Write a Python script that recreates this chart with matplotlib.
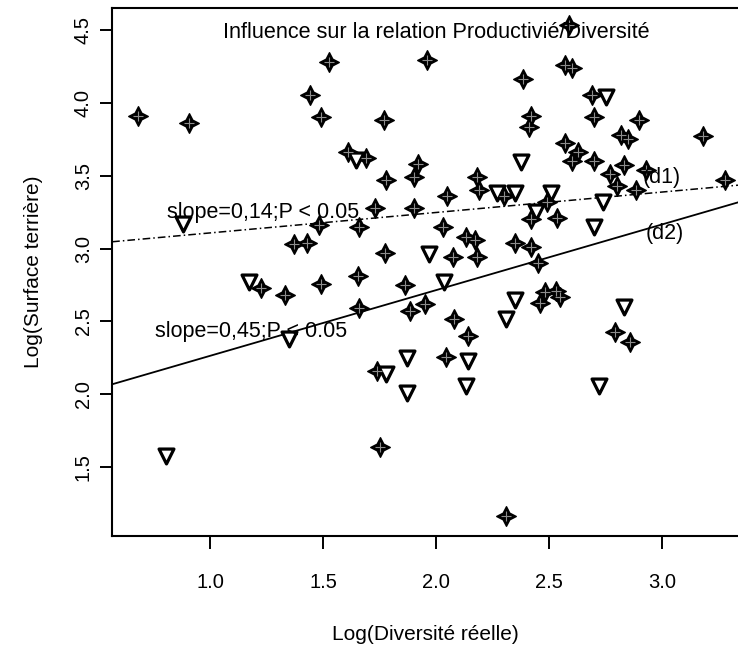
import matplotlib
matplotlib.use("Agg")
import matplotlib.pyplot as plt
import numpy as np
from matplotlib.path import Path

plt.rcParams['font.family'] = ['Liberation Sans', 'DejaVu Sans']

# filled star points (log diversity, log basal area)
star_x = [0.68, 0.907, 1.527, 1.44, 1.49, 1.77, 1.96, 1.61, 1.69, 1.92,
          2.59, 2.57, 2.60, 2.385, 2.69, 2.42, 2.41, 2.70, 2.90, 2.82,
          2.85, 3.18, 2.57, 2.63, 2.60, 2.70, 2.83,
          1.78, 1.90, 1.73, 1.90, 1.48, 1.66, 1.37, 1.43, 1.775, 1.225,
          1.33, 1.49, 1.655, 1.86, 1.66, 1.885, 1.95,
          2.18, 2.19, 2.05, 2.30, 2.49, 2.77, 2.80, 2.885, 2.93, 3.28,
          2.42, 2.535, 2.03, 2.13, 2.17, 2.35, 2.42, 2.075, 2.18, 2.45,
          2.48, 2.53, 2.55, 2.46, 2.08,
          1.74, 1.75, 2.14, 2.045, 2.79, 2.86, 2.31]
star_y = [3.91, 3.86, 4.28, 4.05, 3.90, 3.88, 4.29, 3.66, 3.62, 3.58,
          4.53, 4.26, 4.24, 4.16, 4.055, 3.91, 3.83, 3.90, 3.88, 3.78,
          3.75, 3.77, 3.72, 3.66, 3.60, 3.60, 3.57,
          3.47, 3.49, 3.28, 3.28, 3.16, 3.15, 3.03, 3.04, 2.97, 2.73,
          2.68, 2.76, 2.815, 2.75, 2.59, 2.575, 2.62,
          3.49, 3.40, 3.36, 3.36, 3.32, 3.51, 3.43, 3.40, 3.54, 3.47,
          3.20, 3.21, 3.15, 3.08, 3.06, 3.04, 3.01, 2.94, 2.94, 2.90,
          2.70, 2.71, 2.67, 2.63, 2.52,
          2.16, 1.64, 2.40, 2.26, 2.43, 2.36, 1.17]

# open triangle points
tri_x = [1.645, 2.75, 2.375, 0.88, 1.97, 1.17, 1.35, 2.27, 2.35, 2.51,
         2.74, 2.44, 2.70, 2.035, 2.35, 2.83, 2.31, 1.87, 1.78, 1.87,
         0.805, 2.14, 2.13, 2.72]
tri_y = [3.61, 4.04, 3.59, 3.17, 2.96, 2.77, 2.38, 3.38, 3.38, 3.38,
         3.32, 3.25, 3.15, 2.77, 2.65, 2.60, 2.52, 2.25, 2.14, 2.01,
         1.575, 2.23, 2.055, 2.06]

# regression lines (slope, intercept)
slope_d1, icpt_d1 = 0.14, 2.967
slope_d2, icpt_d2 = 0.45, 1.815

x_ticks = [1.0, 1.5, 2.0, 2.5, 3.0]
y_ticks = [1.5, 2.0, 2.5, 3.0, 3.5, 4.0, 4.5]

# four-pointed star marker
k = 0.34
verts = [(0, 1), (k, k), (1, 0), (k, -k), (0, -1),
         (-k, -k), (-1, 0), (-k, k), (0, 1)]
star_marker = Path(verts, [Path.MOVETO] + [Path.LINETO] * 7 + [Path.CLOSEPOLY])

fig = plt.figure(figsize=(7.38, 6.45), dpi=100)
ax = fig.add_axes([0.152, 0.169, 0.848, 0.819])
xmin, xmax = 0.566, 3.336
ax.set_xlim(xmin, xmax)
ax.set_ylim(1.03, 4.65)

xs = np.array([xmin, xmax])
ax.plot(xs, slope_d1 * xs + icpt_d1, color='black', lw=1.1,
        dashes=[5, 2, 1, 2])
ax.plot(xs, slope_d2 * xs + icpt_d2, color='black', lw=1.3)

ax.scatter(star_x, star_y, marker=star_marker, s=200, color='black',
           zorder=3)
ax.scatter(star_x, star_y, marker='+', s=50, color='#8c8c8c',
           linewidths=0.8, zorder=4)
ax.scatter(tri_x, tri_y, marker='v', s=115, facecolor='white',
           edgecolor='black', linewidths=2.3, zorder=3)

ax.text(2.0, 4.48, 'Influence sur la relation Productivié/Diversité',
        ha='center', va='center', fontsize=15.6, zorder=5)
ax.text(1.235, 3.25, 'slope=0,14;P < 0.05', ha='center', va='center',
        fontsize=15.5, zorder=5)
ax.text(1.18, 2.43, 'slope=0,45;P < 0.05', ha='center', va='center',
        fontsize=15.5, zorder=5)
ax.text(3.0, 3.49, '(d1)', ha='center', va='center', fontsize=15.5, zorder=5)
ax.text(3.01, 3.10, '(d2)', ha='center', va='center', fontsize=15.5, zorder=5)

ax.set_xticks(x_ticks)
ax.set_xticklabels([f'{v:.1f}' for v in x_ticks])
ax.set_yticks(y_ticks)
ax.set_yticklabels([f'{v:.1f}' for v in y_ticks], rotation=90, va='center')
ax.tick_params(direction='out', length=9, width=1.4, labelsize=14.5)
ax.tick_params(axis='x', pad=17.5)
ax.tick_params(axis='y', pad=5)

for side in ['left', 'bottom', 'top']:
    ax.spines[side].set_linewidth(1.5)
ax.spines['right'].set_visible(False)

ax.set_xlabel('Log(Diversité réelle)', fontsize=15, labelpad=24)
ax.set_ylabel('Log(Surface terrière)', fontsize=15, labelpad=22)

fig.savefig('out.png', dpi=100)
